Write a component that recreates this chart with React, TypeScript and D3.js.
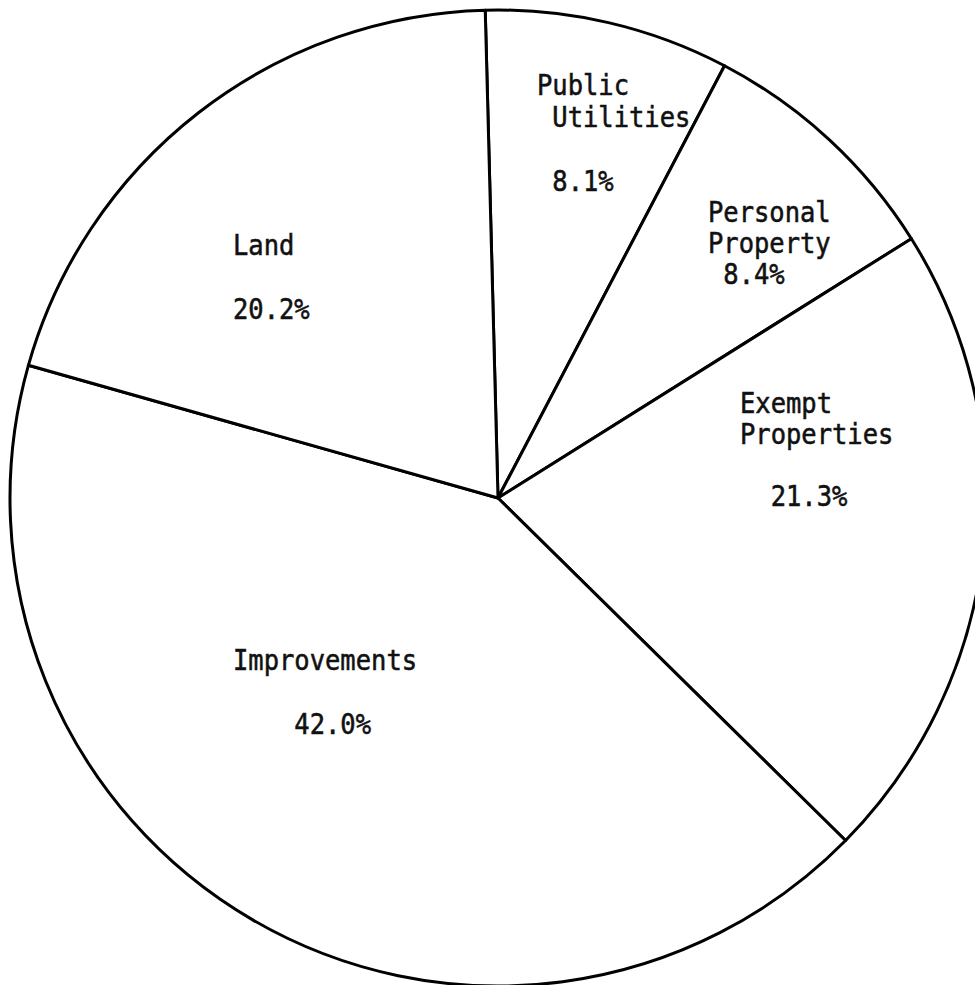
import React, { useEffect, useRef } from 'react';
import * as d3 from 'd3';

// shares as printed on the chart (percent)
const categories = ['Public Utilities', 'Personal Property', 'Exempt Properties', 'Improvements', 'Land'];
const shares = [8.1, 8.4, 21.3, 42.0, 20.2];
// label text, line by line
const labelLines = [
  ['Public', ' Utilities', '', ' 8.1%'],
  ['Personal', 'Property', ' 8.4%'],
  ['Exempt', 'Properties', '', '  21.3%'],
  ['Land', '', '20.2%'],
  ['Improvements', '', '    42.0%'],
];

function PieChart() {
  const svgRef = useRef<SVGSVGElement>(null);

  useEffect(() => {
    const svg = d3.select(svgRef.current);
    svg.selectAll('*').remove();

    const cx = 498;
    const cy = 498;
    const radius = 488;
    const tilt = (-1.5 * Math.PI) / 180; // first cut sits just off vertical

    const g = svg.append('g').attr('transform', `translate(${cx},${cy})`);

    const data = categories.map((c, i) => ({ name: c, value: shares[i] }));

    const pie = d3
      .pie<{ name: string; value: number }>()
      .sort(null)
      .value((d) => d.value)
      .startAngle(tilt)
      .endAngle(2 * Math.PI + tilt);

    const arc = d3.arc<d3.PieArcDatum<{ name: string; value: number }>>().innerRadius(0).outerRadius(radius);

    g.selectAll('path.slice')
      .data(pie(data))
      .enter()
      .append('path')
      .attr('class', 'slice')
      .attr('d', arc)
      .attr('fill', 'white')
      .attr('stroke', 'black')
      .attr('stroke-width', 3)
      .attr('stroke-linejoin', 'round');

    // hand-placed label spots (offset from centre, left edge / first baseline)
    const spots = [
      { dx: 39, dy: -403, gap: 32 },
      { dx: 210, dy: -276, gap: 31 },
      { dx: 242, dy: -85, gap: 31 },
      { dx: -265, dy: -243, gap: 32 },
      { dx: -265, dy: 172, gap: 32 },
    ];

    const labels = g
      .selectAll('text.label')
      .data(labelLines)
      .enter()
      .append('text')
      .attr('class', 'label')
      .attr('font-family', '"DejaVu Sans Mono", monospace')
      .attr('font-size', 25.5)
      .attr('fill', '#111')
      .attr('stroke', '#111')
      .attr('stroke-width', 0.5)
      .style('white-space', 'pre')
      .attr('transform', (d, i) => `translate(${spots[i].dx},${spots[i].dy}) scale(1,1.08)`);

    labels.each(function (lines, i) {
      const t = d3.select(this);
      lines.forEach((line, j) => {
        t.append('tspan')
          .attr('x', 0)
          .attr('y', (j * spots[i].gap) / 1.08)
          .text(line);
      });
    });
  }, []);

  return <svg ref={svgRef} width="975" height="985" style={{ display: 'block', background: 'white' }}></svg>;
}

export default function App() {
  return (
    <div style={{ position: 'fixed', left: 0, top: 0, width: 975, height: 985, background: 'white' }}>
      <PieChart />
    </div>
  );
}
